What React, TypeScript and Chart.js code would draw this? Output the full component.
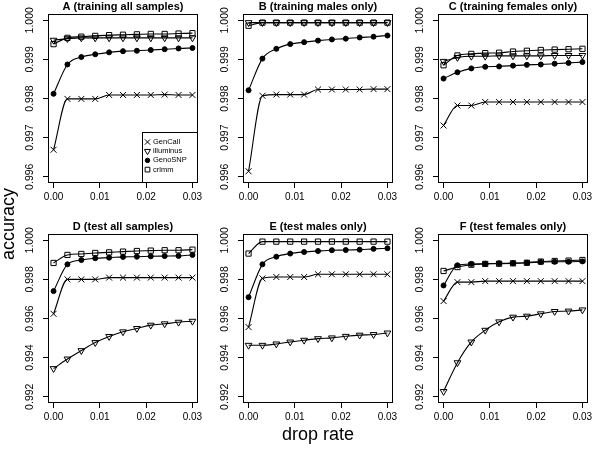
import React, { useEffect, useRef } from "react";
import { Chart, registerables } from "chart.js";
import { drawPoint } from "chart.js/helpers";

Chart.register(...registerables);

const FONT = "'Liberation Sans', Arial, Helvetica, sans-serif";

// ---------------- data ----------------
const dropRate = [0, 0.003, 0.006, 0.009, 0.012, 0.015, 0.018, 0.021, 0.024, 0.027, 0.03];
const xTickValues = [0, 0.01, 0.02, 0.03];
const trainTickValues = [0.996, 0.997, 0.998, 0.999, 1.0];
const testTickValues = [0.992, 0.994, 0.996, 0.998, 1.0];
const methods = ["GenCall", "illuminus", "GenoSNP", "crlmm"];

// A (training all samples)
const A_GenCall = [0.99669, 0.99799, 0.99799, 0.99799, 0.99809, 0.99809, 0.99809, 0.99809, 0.9981, 0.99809, 0.99809];
const A_illuminus = [0.99949, 0.99953, 0.99955, 0.99955, 0.99955, 0.99955, 0.99955, 0.99955, 0.99955, 0.99955, 0.99955];
const A_GenoSNP = [0.99812, 0.99887, 0.99906, 0.99913, 0.99918, 0.99921, 0.99922, 0.99924, 0.99926, 0.99928, 0.99929];
const A_crlmm = [0.99939, 0.99955, 0.99958, 0.9996, 0.99962, 0.99963, 0.99964, 0.99965, 0.99965, 0.99966, 0.99967];

// B (training males only)
const B_GenCall = [0.99614, 0.99807, 0.9981, 0.9981, 0.9981, 0.99823, 0.99823, 0.99823, 0.99823, 0.99824, 0.99824];
const B_illuminus = [0.99994, 0.99994, 0.99994, 0.99994, 0.99994, 0.99994, 0.99994, 0.99994, 0.99994, 0.99994, 0.99994];
const B_GenoSNP = [0.99821, 0.99902, 0.99927, 0.99939, 0.99944, 0.99948, 0.99951, 0.99953, 0.99956, 0.99958, 0.99961];
const B_crlmm = [0.99986, 0.99994, 0.99994, 0.99994, 0.99994, 0.99994, 0.99994, 0.99994, 0.99994, 0.99994, 0.99994];

// C (training females only)
const C_GenCall = [0.99731, 0.99782, 0.99782, 0.99791, 0.99791, 0.99791, 0.99791, 0.99791, 0.99791, 0.99791, 0.99791];
const C_illuminus = [0.99895, 0.99905, 0.99908, 0.99908, 0.99909, 0.99909, 0.99909, 0.99909, 0.9991, 0.9991, 0.9991];
const C_GenoSNP = [0.99851, 0.99867, 0.99877, 0.99881, 0.99882, 0.99884, 0.99886, 0.99887, 0.99889, 0.99891, 0.99893];
const C_crlmm = [0.99885, 0.9991, 0.99914, 0.99916, 0.99917, 0.9992, 0.99922, 0.99924, 0.99925, 0.99926, 0.99927];

// D (test all samples)
const D_GenCall = [0.99624, 0.998, 0.998, 0.998, 0.99809, 0.99809, 0.99809, 0.99809, 0.99809, 0.99809, 0.99809];
const D_illuminus = [0.99344, 0.99393, 0.99436, 0.99477, 0.99508, 0.99532, 0.99549, 0.99566, 0.99573, 0.99581, 0.99586];
const D_GenoSNP = [0.9974, 0.99877, 0.99899, 0.99908, 0.99911, 0.99915, 0.99916, 0.99918, 0.99919, 0.9992, 0.99925];
const D_crlmm = [0.99884, 0.99925, 0.9993, 0.99935, 0.99938, 0.99942, 0.99945, 0.99947, 0.99949, 0.99949, 0.99952];

// E (test males only)
const E_GenCall = [0.99556, 0.99805, 0.99812, 0.99812, 0.99812, 0.99826, 0.99826, 0.99826, 0.99826, 0.99826, 0.99826];
const E_illuminus = [0.99463, 0.99463, 0.9947, 0.9948, 0.99489, 0.99497, 0.99501, 0.99509, 0.99515, 0.99518, 0.99526];
const E_GenoSNP = [0.99709, 0.99877, 0.99916, 0.99932, 0.9994, 0.99945, 0.99949, 0.9995, 0.99952, 0.99956, 0.99959];
const E_crlmm = [0.99932, 0.99993, 0.99993, 0.99993, 0.99993, 0.99993, 0.99993, 0.99993, 0.99993, 0.99993, 0.99993];

// F (test females only)
const F_GenCall = [0.99689, 0.99786, 0.99786, 0.99791, 0.99791, 0.99791, 0.99791, 0.99791, 0.99791, 0.99791, 0.99791];
const F_illuminus = [0.99227, 0.99374, 0.9948, 0.9954, 0.99583, 0.99607, 0.99612, 0.99624, 0.99636, 0.99638, 0.99644];
const F_GenoSNP = [0.99769, 0.99872, 0.99879, 0.9988, 0.99882, 0.99883, 0.99885, 0.99889, 0.9989, 0.9989, 0.99892];
const F_crlmm = [0.99843, 0.99863, 0.99875, 0.99879, 0.9988, 0.99882, 0.99885, 0.99891, 0.99894, 0.99896, 0.99899];

// ---------------- styles / layout ----------------
const MARKERS = [
  { pointStyle: "crossRot", radius: 4.2, rotation: 0, bg: "rgba(0,0,0,0)" },
  { pointStyle: "triangle", radius: 3.9, rotation: 180, bg: "rgba(0,0,0,0)" },
  { pointStyle: "circle", radius: 2.5, rotation: 0, bg: "#000" },
  { pointStyle: "rect", radius: 3.7, rotation: 0, bg: "rgba(0,0,0,0)" },
];

const Y_AXIS_W = 47;
const PLOT_W = 150;
const PAD_R = 8;
const CANVAS_W = Y_AXIS_W + PLOT_W + PAD_R;

const PANELS = [
  { title: "A (training all samples)", series: [A_GenCall, A_illuminus, A_GenoSNP, A_crlmm], ticks: trainTickValues, yMin: 0.99584, yMax: 1.00016, left: 1, top: 0, height: 220, xAxisH: 37, legend: true, xTitle: false },
  { title: "B (training males only)", series: [B_GenCall, B_illuminus, B_GenoSNP, B_crlmm], ticks: trainTickValues, yMin: 0.99584, yMax: 1.00016, left: 196, top: 0, height: 220, xAxisH: 37, legend: false, xTitle: false },
  { title: "C (training females only)", series: [C_GenCall, C_illuminus, C_GenoSNP, C_crlmm], ticks: trainTickValues, yMin: 0.99584, yMax: 1.00016, left: 391, top: 0, height: 220, xAxisH: 37, legend: false, xTitle: false },
  { title: "D (test all samples)", series: [D_GenCall, D_illuminus, D_GenoSNP, D_crlmm], ticks: testTickValues, yMin: 0.99168, yMax: 1.00032, left: 1, top: 220, height: 230, xAxisH: 47, legend: false, xTitle: false },
  { title: "E (test males only)", series: [E_GenCall, E_illuminus, E_GenoSNP, E_crlmm], ticks: testTickValues, yMin: 0.99168, yMax: 1.00032, left: 196, top: 220, height: 230, xAxisH: 47, legend: false, xTitle: true },
  { title: "F (test females only)", series: [F_GenCall, F_illuminus, F_GenoSNP, F_crlmm], ticks: testTickValues, yMin: 0.99168, yMax: 1.00032, left: 391, top: 220, height: 230, xAxisH: 47, legend: false, xTitle: false },
];

const boxPlugin = {
  id: "plotBox",
  afterDraw(chart: any) {
    const { ctx, chartArea: a } = chart;
    ctx.save();
    ctx.strokeStyle = "#000";
    ctx.lineWidth = 1;
    ctx.strokeRect(Math.round(a.left) + 0.5, Math.round(a.top) + 0.5, Math.round(a.width) - 1, Math.round(a.height) - 1);
    ctx.restore();
  },
};

const legendPlugin = {
  id: "boxLegend",
  afterDraw(chart: any) {
    const { ctx, chartArea: a } = chart;
    const w = 56;
    const h = 51;
    const x0 = Math.round(a.right - w);
    const y0 = Math.round(a.bottom - h);
    ctx.save();
    ctx.strokeStyle = "#000";
    ctx.lineWidth = 1;
    ctx.strokeRect(x0 + 0.5, y0 + 0.5, w - 1, h - 1);
    chart.data.datasets.forEach((ds: any, i: number) => {
      const y = y0 + 10 + 9.2 * i;
      ctx.strokeStyle = "#000";
      ctx.fillStyle = ds.pointBackgroundColor;
      ctx.lineWidth = 1;
      drawPoint(ctx, { pointStyle: ds.pointStyle, rotation: ds.pointRotation, radius: ds.pointRadius * 0.9, borderWidth: 1 } as any, x0 + 5.5, y);
      ctx.fillStyle = "#000";
      ctx.font = `7.5px ${FONT}`;
      ctx.textBaseline = "middle";
      ctx.textAlign = "left";
      ctx.fillText(ds.label, x0 + 11, y);
    });
    ctx.restore();
  },
};

function Panel({ p }: { p: any }) {
  const ref = useRef<HTMLCanvasElement>(null);
  useEffect(() => {
    const datasets = methods.map((m, i) => ({
      label: m,
      data: dropRate.map((x, k) => ({ x, y: p.series[i][k] })),
      borderColor: "#000",
      borderWidth: 1.1,
      backgroundColor: MARKERS[i].bg,
      pointStyle: MARKERS[i].pointStyle,
      pointRotation: MARKERS[i].rotation,
      pointRadius: MARKERS[i].radius,
      pointBorderWidth: 1,
      pointBorderColor: "#000",
      pointBackgroundColor: MARKERS[i].bg,
      cubicInterpolationMode: "monotone",
      fill: false,
    }));
    const gridOpts = { drawOnChartArea: false, drawTicks: true, tickLength: 5, color: "#000", lineWidth: 1 };
    const chart = new Chart(ref.current as HTMLCanvasElement, {
      type: "line",
      data: { datasets: datasets as any },
      plugins: p.legend ? [boxPlugin, legendPlugin] : [boxPlugin],
      options: {
        responsive: false,
        maintainAspectRatio: false,
        animation: false,
        events: [],
        layout: { padding: { left: 0, right: PAD_R, top: 0, bottom: 0 } },
        plugins: {
          legend: { display: false },
          tooltip: { enabled: false },
          title: {
            display: true,
            text: p.title,
            fullSize: false,
            color: "#000",
            padding: 0,
            font: { family: FONT, size: 11, weight: "bold", lineHeight: "14px" },
          },
        },
        scales: {
          x: {
            type: "linear",
            min: -0.0012,
            max: 0.0312,
            afterBuildTicks: (s: any) => {
              s.ticks = xTickValues.map((v) => ({ value: v }));
            },
            afterFit: (s: any) => {
              s.height = p.xAxisH;
              s.paddingLeft = 0;
              s.paddingRight = 0;
            },
            grid: gridOpts,
            border: { display: false },
            ticks: {
              autoSkip: false,
              maxRotation: 0,
              minRotation: 0,
              padding: 3,
              color: "#000",
              font: { family: FONT, size: 10 },
              callback: (v: any) => Number(v).toFixed(2),
            },
            title: {
              display: p.xTitle,
              text: "drop rate",
              color: "#000",
              font: { family: FONT, size: 18, lineHeight: "20px" },
              padding: { top: 0, bottom: 5 },
            },
          },
          y: {
            type: "linear",
            min: p.yMin,
            max: p.yMax,
            afterBuildTicks: (s: any) => {
              s.ticks = p.ticks.map((v: number) => ({ value: v }));
            },
            afterFit: (s: any) => {
              s.width = Y_AXIS_W;
              s.paddingTop = 0;
              s.paddingBottom = 0;
            },
            grid: gridOpts,
            border: { display: false },
            ticks: {
              autoSkip: false,
              minRotation: 90,
              maxRotation: 90,
              crossAlign: "center",
              padding: 0,
              color: "#000",
              font: { family: FONT, size: 10.5 },
              callback: (v: any) => Number(v).toFixed(3),
            },
          },
        },
      } as any,
    });
    return () => chart.destroy();
  }, []);
  return (
    <canvas
      ref={ref}
      width={CANVAS_W}
      height={p.height}
      style={{ position: "absolute", left: p.left, top: p.top, width: CANVAS_W, height: p.height }}
    />
  );
}

export default function App() {
  return (
    <div style={{ position: "absolute", left: 0, top: 0, width: 600, height: 450, background: "#fff", overflow: "hidden" }}>
      {PANELS.map((p, i) => (
        <Panel key={i} p={p} />
      ))}
      <div
        style={{
          position: "absolute",
          left: 8 - 50,
          top: 224 - 12,
          width: 100,
          height: 24,
          lineHeight: "24px",
          textAlign: "center",
          transform: "rotate(-90deg)",
          fontFamily: FONT,
          fontSize: 18,
          color: "#000",
        }}
      >
        accuracy
      </div>
    </div>
  );
}
